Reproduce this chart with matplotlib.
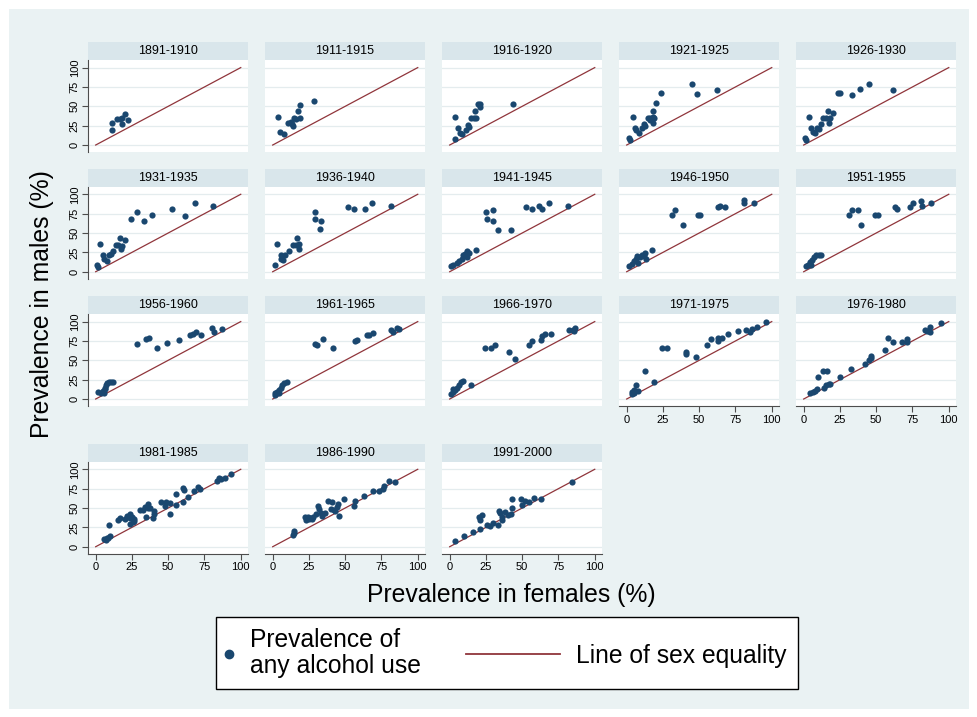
import matplotlib
matplotlib.use("Agg")
import matplotlib.pyplot as plt
import numpy as np
from matplotlib.legend_handler import HandlerLine2D
from matplotlib.lines import Line2D
from matplotlib.patches import Rectangle

# birth cohorts, one panel each
cohorts = ["1891-1910", "1911-1915", "1916-1920", "1921-1925", "1926-1930",
           "1931-1935", "1936-1940", "1941-1945", "1946-1950", "1951-1955",
           "1956-1960", "1961-1965", "1966-1970", "1971-1975", "1976-1980",
           "1981-1985", "1986-1990", "1991-2000"]

# prevalence of any alcohol use (%), females (x) and males (y)
f1891 = [11, 11, 14.9, 16.5, 18, 20, 18, 22.4]
m1891 = [19, 28.6, 33, 33.8, 35.5, 40.7, 26.8, 32]
f1911 = [3.4, 5.3, 7.6, 10.8, 12.6, 13.8, 14.4, 16.3, 17.2, 18.6, 19, 28.2, 13.5]
m1911 = [36.4, 16.9, 14.7, 28.6, 29.4, 24.2, 34.6, 33.8, 44.2, 34.6, 52, 57.1, 26.8]
f1916 = [3.7, 3.7, 5.5, 6.9, 8.2, 11, 12.4, 13.3, 14.6, 16.5, 17.8, 17.4, 19.2, 20.6, 21, 43.9]
m1916 = [7.8, 36.4, 21.6, 15.6, 13.9, 19.9, 25.5, 23.4, 34.6, 34.6, 34.6, 44.2, 52.8, 52.8, 49.4, 52.8]
f1921 = [1.8, 2.3, 4.1, 5.9, 6.4, 8.7, 10.5, 11.8, 12.8, 14.6, 15.9, 17.8, 17.8, 19.1, 18.2,
         20.5, 23.7, 45.1, 48.3, 62, 16.4]
m1921 = [9.5, 6.9, 36.4, 22.5, 19, 15.6, 22.5, 26.8, 25.1, 34.6, 35.5, 43.3, 36.4, 34.6, 28.6,
         53.7, 67.5, 78.8, 65.8, 71, 32.9]
f1926 = [1.1, 1.6, 3.4, 5.3, 6.2, 8, 9.4, 10.3, 11.7, 13.6, 15.4, 16.8, 18.2, 17.7, 20,
         23.7, 25, 33.3, 38.9, 44.8, 61.8]
m1926 = [9.5, 6.9, 36.4, 22.5, 16.5, 15.6, 22.5, 20.8, 26.8, 34.6, 35.5, 44.2, 35.5, 28.6, 41.6,
         67.5, 66.7, 64.5, 72.3, 78.8, 70.6]
f1931 = [0.9, 1.4, 3.2, 5.3, 5.7, 7.6, 9, 10.3, 11.7, 14, 15.6, 16.8, 17.2, 18.2, 20.5,
         24.4, 28.7, 33.3, 38.9, 52.6, 61.4, 68.5, 81.1]
m1931 = [9, 6.5, 36.2, 22, 16.4, 14.2, 21.1, 22.8, 27.2, 34.5, 34, 44, 28.9, 33.2, 40.9,
         68.1, 77.6, 65.9, 73.7, 81, 72, 88.4, 85.3]
f1936 = [1.4, 3.2, 5.5, 6, 7.4, 8.7, 11, 14.3, 16.1, 17, 17.9, 18.4, 29, 29.4, 33.1, 32.6,
         52.2, 56.1, 63.9, 68.5, 81.4]
m1936 = [8.2, 36.2, 22, 16, 15.1, 22, 27.2, 34.5, 34, 44, 28.9, 35.8, 76.7, 68.1, 65.9, 54.7,
         84, 81, 81, 88.4, 85.3]
f1941 = [0.7, 2.5, 4.8, 6.2, 8.5, 9.4, 10.8, 11.7, 12.2, 13.1, 18.2, 25, 25.5, 30, 30, 33,
         42, 52.6, 56.8, 61.4, 63.7, 68.7, 81.6]
m1941 = [7.3, 9, 11.6, 13.4, 16.8, 21.1, 22.8, 27.2, 19.4, 23.7, 28, 76.7, 68, 79.5, 65, 54.5,
         54, 84, 80.6, 84.9, 81, 88.4, 85.3]
f1946 = [1.6, 3.4, 4.8, 6.2, 7.1, 8, 8.9, 10.3, 11.7, 12.6, 13.6, 17.7, 31.5, 33.3, 38.9,
         49.4, 50.8, 62.8, 64.1, 67.8, 80.7, 80.7, 87.6]
m1946 = [7.3, 9.9, 13.4, 16.8, 20.3, 11.6, 18.5, 22, 20.3, 23.7, 16.8, 28, 73.7, 79.7, 59.9,
         73.7, 73.7, 84, 84.9, 84, 92.7, 89.2, 89.2]
f1951 = [1.6, 3, 4.4, 5.7, 7.1, 8.5, 10.3, 12.2, 5.3, 31.5, 33.3, 37.5, 39.3, 49.4, 51.3,
         63.2, 64.1, 73.3, 75.2, 81.1, 81.6, 88]
m1951 = [7.3, 9, 12.5, 15.1, 19.4, 21.1, 22, 22, 8.2, 73.7, 79.7, 79.7, 59.9, 73.7, 73.7,
         84, 81.5, 84, 88.4, 91.8, 84.9, 89.2]
f1956 = [1.6, 3.4, 4.8, 5.7, 6.2, 7.1, 8, 9.4, 10.8, 12.2, 6.7, 28.7, 34.7, 37, 42.1, 49,
         57.7, 65.1, 66.9, 69.2, 72.9, 80.2, 81.6, 87.1]
m1956 = [9.7, 8.1, 10.6, 7.2, 14.8, 18.2, 20.8, 21.6, 21.6, 21.6, 12.3, 71.6, 78, 78.8, 65.3,
         72.5, 76.7, 82.2, 83.9, 86, 82.2, 91.1, 86.9, 90.3]
f1961 = [1.4, 2.8, 4.1, 5.5, 6.4, 7.8, 9.7, 1.8, 4.6, 29.4, 30.8, 34.9, 41.8, 57, 57.9,
         64.8, 66.7, 69, 81.4, 83.2, 85.5, 86.9]
m1961 = [8.1, 9.7, 11.4, 14.8, 18.2, 20.8, 21.6, 4.7, 8.1, 71.6, 69.5, 78, 65.3, 74.6, 76.7,
         82.2, 83, 85.2, 88.6, 86.9, 91.1, 90.3]
f1966 = [0.7, 2.1, 3.9, 5.3, 6.2, 7.6, 9, 2.5, 14.5, 24.6, 28.3, 31, 41.1, 44.8, 55, 56.8,
         62.8, 63.7, 65.5, 70.1, 82.5, 84.8, 86.2, 85.7]
m1966 = [6.4, 9.7, 11.4, 14.8, 18.2, 21.6, 23.3, 12.3, 18.2, 65.3, 66.1, 69.5, 61, 51.7, 69.9,
         74.6, 76.7, 80.9, 83.9, 83.9, 89.4, 89.4, 91.9, 87.7]
f1971 = [3.9, 3.9, 5.3, 6.7, 7.6, 4.8, 12.6, 19.1, 24.1, 27.8, 40.7, 41.1, 47.6, 55.4, 58.2,
         62.8, 63.2, 66, 70.1, 76.6, 82.1, 84.8, 86.2, 89.9, 95.9]
m1971 = [6.4, 9.7, 11.4, 18.2, 10.6, 8.1, 35.6, 21.6, 65.3, 66.1, 57.6, 61, 54.7, 69.9, 78,
         75.4, 78.8, 78.8, 83.9, 88.1, 89.4, 86.4, 90.3, 93.6, 99.6]
f1976 = [4.4, 6.2, 8, 9.4, 9.9, 13.1, 16.3, 14, 15.4, 17.2, 18.2, 25.1, 32.4, 42.5, 45.3,
         46.2, 46.7, 55.9, 58.2, 61.4, 67.8, 71, 71.5, 83.9, 84.8, 87.1, 87.1, 94.9]
m1976 = [7.2, 8.9, 10.6, 12.3, 28.8, 35.6, 35.6, 14.8, 18.2, 19.9, 19.9, 28.8, 39, 45.8, 50.4,
         53, 55.9, 62.7, 78.8, 73.7, 73.7, 78, 73.7, 89.4, 87.3, 93.6, 86.4, 97.9]
f1981 = [5.7, 6.8, 7.8, 8.8, 9.9, 9.4, 15.6, 16.6, 20.3, 21.8, 23.4, 23.9, 24.9, 23.9, 25.5,
         26.5, 26.5, 30.6, 32.7, 33.8, 35.8, 36.4, 37.4, 34.8, 39.5, 40, 40.5, 44.7, 48.3, 47.8,
         51.4, 50.9, 55.6, 55.1, 60.3, 60.8, 60.3, 63.9, 67.5, 70.6, 71.7, 83.6, 84.7, 86.2,
         88.8, 93]
m1981 = [10.3, 9.1, 11.6, 10.8, 13.4, 28.4, 34.9, 37.5, 36.2, 39.2, 42.7, 37.5, 38.4, 28.9, 31.5,
         35.8, 33.2, 47.8, 47, 51.3, 50.4, 54.7, 49.6, 38.4, 37.5, 42.7, 46.1, 57.8, 58.2, 52.2,
         56.5, 42.7, 68.5, 53.9, 75.4, 72.8, 57.4, 64.2, 71.6, 77.2, 74.6, 84.9, 88.4, 87.5,
         89.2, 93.5]
f1986 = [14, 14.5, 15, 22, 23, 24, 25, 26, 27, 28, 30, 31, 32, 33, 34, 36, 38, 40, 41, 42,
         43, 44, 45, 46, 49, 56, 57, 63, 69, 73, 76, 77, 80, 84]
m1986 = [15, 17.5, 20, 38, 34, 39, 36, 37, 36, 38, 42, 52, 49, 43, 40, 43, 59, 49, 58, 48,
         46, 51, 55, 40, 61, 53, 59, 66, 72, 72, 75, 78, 85, 84]
f1991 = [4, 10, 16, 21, 20, 21, 22, 26, 28, 30, 33, 34, 35, 36, 36, 38, 40, 42, 43, 43,
         49, 50, 52, 55, 58, 63, 84]
m1991 = [8, 14, 19, 23, 38, 35, 41, 28, 27, 30, 28, 46, 44, 38, 35, 45, 41, 42, 50, 61,
         61, 54, 59, 58, 63, 61, 84]

females = [f1891, f1911, f1916, f1921, f1926, f1931, f1936, f1941, f1946, f1951,
           f1956, f1961, f1966, f1971, f1976, f1981, f1986, f1991]
males = [m1891, m1911, m1916, m1921, m1926, m1931, m1936, m1941, m1946, m1951,
         m1956, m1961, m1966, m1971, m1976, m1981, m1986, m1991]

equality = [0, 100]
ticks = [0, 25, 50, 75, 100]

NAVY = "#1a476f"
MAROON = "#90353b"
BG = "#eaf2f3"
STRIP = "#d9e6eb"
GRID = "#e4ecee"
AXC = "#4d4d4d"

plt.rcParams["font.family"] = ["Liberation Sans", "DejaVu Sans"]

W, H = 977, 717
fig = plt.figure(figsize=(W / 100, H / 100), dpi=100, facecolor="white")
fig.patches.append(Rectangle((9 / W, 1 - 709 / H), 960 / W, 700 / H,
                             transform=fig.transFigure, facecolor=BG,
                             edgecolor="none", zorder=-10))

# panel layout in pixels
col_left = [88, 265, 442, 619, 796]
row_top = [60, 186.7, 314, 461.7]
PW, PH, HH = 160, 92.3, 17.5


class LongKey(HandlerLine2D):
    """line key that reaches further left than its (narrow) handle box"""

    def get_xdata(self, legend, xdescent, ydescent, width, height, fontsize):
        xdata, xm = super().get_xdata(legend, xdescent, ydescent, width, height, fontsize)
        return np.array([-xdescent - 3.53 * fontsize, -xdescent + width + 0.15 * fontsize]), xm


for i, (label, f, m) in enumerate(zip(cohorts, females, males)):
    r, c = divmod(i, 5)
    ax = fig.add_axes([col_left[c] / W, 1 - (row_top[r] + PH) / H, PW / W, PH / H])
    ax.set_facecolor("white")
    ax.set_xlim(-5.3, 105)
    ax.set_ylim(-9.4, 109.8)
    ax.set_xticks(ticks)
    ax.set_yticks(ticks)
    ax.grid(axis="y", color=GRID, lw=0.9)
    ax.set_axisbelow(True)

    ax.plot(equality, equality, color=MAROON, lw=0.9, zorder=2)
    ax.scatter(f, m, s=20, color=NAVY, linewidths=0, zorder=3)

    show_y = c == 0
    show_x = i >= 13
    for side in ("top", "right"):
        ax.spines[side].set_visible(False)
    ax.spines["left"].set_visible(show_y)
    ax.spines["bottom"].set_visible(show_x)
    for side in ("left", "bottom"):
        ax.spines[side].set_color(AXC)
        ax.spines[side].set_linewidth(0.8)
    ax.tick_params(axis="y", left=show_y, labelleft=show_y, length=4, width=0.8,
                   color=AXC, labelsize=8, labelrotation=90, pad=2)
    ax.tick_params(axis="x", bottom=show_x, labelbottom=show_x, length=4, width=0.8,
                   color=AXC, labelsize=8, pad=2)
    for t in ax.get_yticklabels():
        t.set_va("center")

    hh = HH / PH
    ax.add_patch(Rectangle((0, 1), 1, hh, transform=ax.transAxes, clip_on=False,
                           facecolor=STRIP, edgecolor="none"))
    ax.text(0.5, 1 + hh / 2, label, transform=ax.transAxes, ha="center",
            va="center", fontsize=9)

fig.text(42 / W, 1 - 304 / H, "Prevalence in males (%)", rotation=90,
         ha="center", va="center", fontsize=17.8)
fig.text(511 / W, 1 - 595 / H, "Prevalence in females (%)",
         ha="center", va="center", fontsize=17.8)

dot = Line2D([], [], ls="none", marker="o", ms=6, color=NAVY)
eq_line = Line2D([], [], color=MAROON, lw=1.3)
leg = fig.legend([dot, eq_line], ["Prevalence of\nany alcohol use", "Line of sex equality"],
                 loc="center", bbox_to_anchor=(507 / W, 1 - 653 / H), ncol=2,
                 fontsize=17.7, handlelength=0.15, handletextpad=0.79,
                 borderpad=0.45, columnspacing=5.36, frameon=True, fancybox=False,
                 framealpha=1, facecolor="white", edgecolor="black",
                 handler_map={eq_line: LongKey()})
leg.get_frame().set_linewidth(1.0)
for t in leg.get_texts():
    t.set_linespacing(1.1)

fig.savefig("out.png", dpi=100, facecolor=fig.get_facecolor())
